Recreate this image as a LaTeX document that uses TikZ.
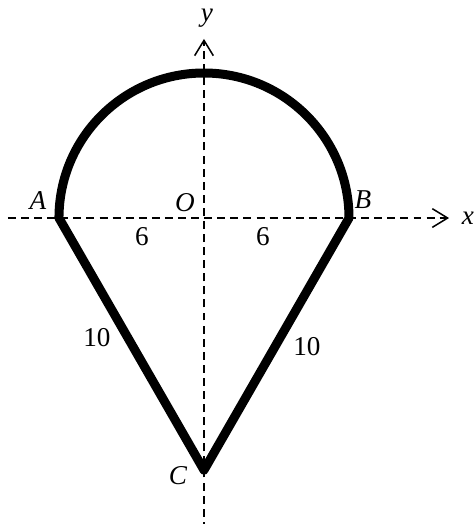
\documentclass[tikz,border=0pt]{standalone}
\usepackage{fontspec}
\setmainfont{Liberation Serif}
\usepackage{unicode-math}
\setmathfont{Latin Modern Math}
\setmathfont[range=it/{latin,Latin}]{Liberation Serif Italic}
\usetikzlibrary{arrows.meta}

\begin{document}
\begin{tikzpicture}[
  x=0.5cm, y=0.5cm,
  every node/.style={font=\fontsize{16}{18}\selectfont, inner sep=0pt},
  axis/.style={line width=0.9pt, dash pattern=on 4.7pt off 3pt,
               -{Straight Barb[length=9pt,width=11pt,line width=0.9pt]}},
  rim/.style={line width=5.3pt, line join=round}
]
\useasboundingbox (-8.44,-12.66) rectangle (11.17,9.02);

%% Points
\coordinate (O) at (0,0);
\coordinate (A) at (-6,0);
\coordinate (B) at (6,0);
\coordinate (C) at (0,-10.43);
\coordinate (xs) at (-8.11,0);
\coordinate (xe) at (10.14,0);
\coordinate (ys) at (0,-12.9);
\coordinate (ye) at (0,7.41);

%% Axes
\draw[axis] (xs) -- (xe);
\draw[axis] (ys) -- (ye);

%% Outline
\draw[rim] (A) arc[start angle=180, end angle=0, radius=6] -- (C) -- cycle;

%% Labels
\node (lx) at (10.92,0) {$x$};
\node (ly) at (0.12,8.28) {$y$};
\node (lA) at (-6.87,0.74) {$A$};
\node (lB) at (6.58,0.74) {$B$};
\node (lO) at (-0.79,0.62) {$O$};
\node (lC) at (-1.08,-10.67) {$C$};
\node (sAO) at (-2.57,-0.79) {6};
\node (sOB) at (2.44,-0.79) {6};
\node (sAC) at (-4.43,-4.96) {10};
\node (sBC) at (4.26,-5.34) {10};

\end{tikzpicture}
\end{document}
